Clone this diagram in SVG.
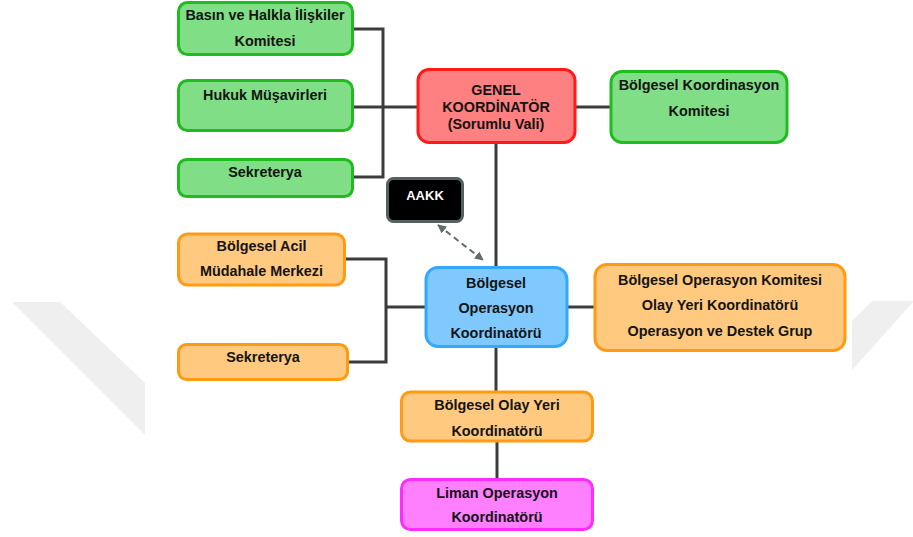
<svg xmlns="http://www.w3.org/2000/svg" width="913" height="537" viewBox="0 0 913 537">
<style>
text{font-family:"Liberation Sans",Arial,sans-serif;font-weight:bold;font-size:14.4px;fill:#141414;text-anchor:middle}
.box{stroke-width:3}
.g{fill:#80de86;stroke:#1fbb1f}
.r{fill:#ff8080;stroke:#ff1a1a}
.o{fill:#ffc980;stroke:#ff9b12}
.b{fill:#80c9ff;stroke:#33a8ff}
.m{fill:#ff80ff;stroke:#ff2bff}
.k{fill:#000;stroke:#556060}
.ln{fill:none;stroke:#3c3c3c;stroke-width:3}
.wm{fill:#efefef}
</style>
<defs>
<marker id="ah" viewBox="0 0 10 10" refX="9" refY="5" markerWidth="4.5" markerHeight="4.5" orient="auto-start-reverse" markerUnits="strokeWidth">
<path d="M0,0 L10,5 L0,10 z" fill="#5f6d6d"/>
</marker>
</defs>
<rect width="913" height="537" fill="#fff"/>
<polygon class="wm" points="12,302 60,302 145,383 145,435"/>
<polygon class="wm" points="852,321 872,301 913,301 913,302 852,370"/>
<g id="connectors">
<polyline class="ln" points="352,29 383,29 383,177 352,177"/>
<line class="ln" x1="353" y1="107" x2="418" y2="107"/>
<line class="ln" x1="575" y1="107" x2="611" y2="107"/>
<line class="ln" x1="496" y1="143" x2="496" y2="268"/>
<polyline class="ln" points="345,259 386,259 386,362 348,362"/>
<line class="ln" x1="386" y1="307" x2="426" y2="307"/>
<line class="ln" x1="567" y1="307" x2="595" y2="307"/>
<line class="ln" x1="496" y1="347" x2="496" y2="392"/>
<line class="ln" x1="497" y1="442" x2="497" y2="479"/>
<line x1="438" y1="225" x2="483" y2="260" stroke="#5f6d6d" stroke-width="2" stroke-dasharray="6 4" marker-start="url(#ah)" marker-end="url(#ah)"/>
</g>
<g id="basin">
<rect class="box g" x="178.5" y="2.5" width="174" height="52" rx="9"/>
<text x="265" y="20">Basın ve Halkla İlişkiler</text>
<text x="265" y="46">Komitesi</text>
</g>
<g id="hukuk">
<rect class="box g" x="178.5" y="80.5" width="174" height="50" rx="9"/>
<text x="265" y="100">Hukuk Müşavirleri</text>
</g>
<g id="sekreterya1">
<rect class="box g" x="178.5" y="159.5" width="174" height="37" rx="8"/>
<text x="265" y="177">Sekreterya</text>
</g>
<g id="genel">
<rect class="box r" x="418" y="69.5" width="157" height="73" rx="11"/>
<text x="496" y="95">GENEL</text>
<text x="496" y="112">KOORDİNATÖR</text>
<text x="496" y="129">(Sorumlu Vali)</text>
</g>
<g id="bkk">
<rect class="box g" x="611" y="71.5" width="176" height="71" rx="11"/>
<text x="699" y="90">Bölgesel Koordinasyon</text>
<text x="699" y="116">Komitesi</text>
</g>
<g id="aakk">
<rect class="box k" x="387.5" y="178.5" width="75" height="43" rx="6"/>
<text x="425" y="200" style="fill:#fff;font-size:13px">AAKK</text>
</g>
<g id="bamm">
<rect class="box o" x="178.5" y="234" width="166" height="51" rx="9"/>
<text x="261.5" y="251">Bölgesel Acil</text>
<text x="261.5" y="276">Müdahale Merkezi</text>
</g>
<g id="sekreterya2">
<rect class="box o" x="178.5" y="344.5" width="169" height="35" rx="8"/>
<text x="263" y="362">Sekreterya</text>
</g>
<g id="boperasyon">
<rect class="box b" x="426" y="267.5" width="141" height="79" rx="12"/>
<text x="496" y="288">Bölgesel</text>
<text x="496" y="313">Operasyon</text>
<text x="496" y="338">Koordinatörü</text>
</g>
<g id="bokomite">
<rect class="box o" x="595" y="264.5" width="250" height="86" rx="12"/>
<text x="720" y="285">Bölgesel Operasyon Komitesi</text>
<text x="720" y="310">Olay Yeri Koordinatörü</text>
<text x="720" y="336">Operasyon ve Destek Grup</text>
</g>
<g id="olayyeri">
<rect class="box o" x="401.5" y="392" width="191" height="49" rx="9"/>
<text x="497" y="410">Bölgesel Olay Yeri</text>
<text x="497" y="436">Koordinatörü</text>
</g>
<g id="liman">
<rect class="box m" x="401.5" y="479.5" width="191" height="50" rx="9"/>
<text x="497" y="498">Liman Operasyon</text>
<text x="497" y="522">Koordinatörü</text>
</g>
</svg>
